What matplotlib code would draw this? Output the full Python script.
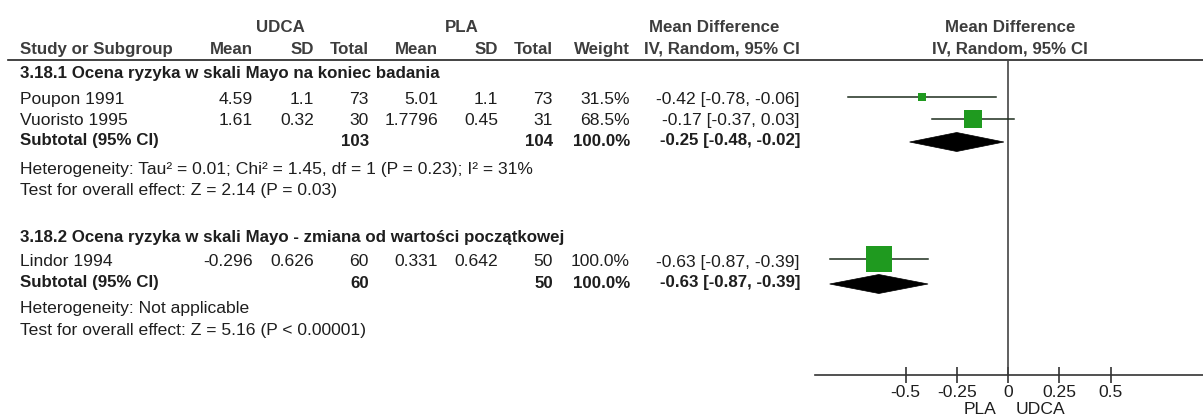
import matplotlib
matplotlib.use("Agg")
import matplotlib.pyplot as plt
from matplotlib.patches import Polygon

plt.rcParams['font.family'] = ['Liberation Sans', 'DejaVu Sans']

# Study-level data
studies = ['Poupon 1991', 'Vuoristo 1995', 'Lindor 1994']
udca_mean = [4.59, 1.61, -0.296]
udca_sd = [1.1, 0.32, 0.626]
udca_n = [73, 30, 60]
pla_mean = [5.01, 1.7796, 0.331]
pla_sd = [1.1, 0.45, 0.642]
pla_n = [73, 31, 50]
weights = [31.5, 68.5, 100.0]
md = [-0.42, -0.17, -0.63]
md_lo = [-0.78, -0.37, -0.87]
md_hi = [-0.06, 0.03, -0.39]

# Subgroup pooled results
groups = ['3.18.1 Ocena ryzyka w skali Mayo na koniec badania',
          '3.18.2 Ocena ryzyka w skali Mayo - zmiana od wartości początkowej']
sub_udca_n = [103, 60]
sub_pla_n = [104, 50]
sub_weight = [100.0, 100.0]
sub_md = [-0.25, -0.63]
sub_lo = [-0.48, -0.87]
sub_hi = [-0.02, -0.39]
heterogeneity = ['Heterogeneity: Tau\u00b2 = 0.01; Chi\u00b2 = 1.45, df = 1 (P = 0.23); I\u00b2 = 31%',
                 'Heterogeneity: Not applicable']
overall = ['Test for overall effect: Z = 2.14 (P = 0.03)',
           'Test for overall effect: Z = 5.16 (P < 0.00001)']

xticks = [-0.5, -0.25, 0, 0.25, 0.5]
xtick_labels = ['-0.5', '-0.25', '0', '0.25', '0.5']
left_label, right_label = 'PLA', 'UDCA'

W, H = 1203, 417
fig = plt.figure(figsize=(W / 100, H / 100), dpi=100)
fig.patch.set_facecolor('white')

# Text layer in pixel coordinates
tx = fig.add_axes([0, 0, 1, 1])
tx.set_xlim(0, W)
tx.set_ylim(H, 0)
tx.axis('off')

FS = 12.6
FSB = 12.2
TXT = '#1e1e1e'
HDR = '#3d3d3d'

def put(x, y, s, ha='left', bold=False, color=TXT):
    tx.text(x, y, s, ha=ha, va='center', fontsize=FSB if bold else FS,
            fontweight='bold' if bold else 'normal', color=color)

# Column right edges
c_um, c_usd, c_un = 253, 314, 369
c_pm, c_psd, c_pn = 438, 498, 553
c_w, c_ci = 630, 800

put(280, 27, 'UDCA', 'center', True, HDR)
put(462, 27, 'PLA', 'center', True, HDR)
put(714, 27, 'Mean Difference', 'center', True, HDR)
put(1010, 27, 'Mean Difference', 'center', True, HDR)

hy = 49
put(20, hy, 'Study or Subgroup', 'left', True, HDR)
for x, s in [(c_um, 'Mean'), (c_usd, 'SD'), (c_un, 'Total'),
             (c_pm, 'Mean'), (c_psd, 'SD'), (c_pn, 'Total'),
             (c_w, 'Weight'), (c_ci, 'IV, Random, 95% CI')]:
    put(x, hy, s, 'right', True, HDR)
put(1010, hy, 'IV, Random, 95% CI', 'center', True, HDR)
tx.plot([8, W], [59.5, 59.5], color='#222222', lw=1.2)

study_y = [99, 120, 262]
title_y = [73, 237]
sub_y = [141, 283]
het_y = [169, 309]
ovr_y = [190, 331]

for g in range(len(groups)):
    put(20, title_y[g], groups[g], 'left', True)
    put(20, sub_y[g], 'Subtotal (95% CI)', 'left', True)
    put(c_un, sub_y[g], str(sub_udca_n[g]), 'right', True)
    put(c_pn, sub_y[g], str(sub_pla_n[g]), 'right', True)
    put(c_w, sub_y[g], f'{sub_weight[g]:.1f}%', 'right', True)
    put(c_ci, sub_y[g], f'{sub_md[g]:.2f} [{sub_lo[g]:.2f}, {sub_hi[g]:.2f}]', 'right', True)
    put(20, het_y[g], heterogeneity[g])
    put(20, ovr_y[g], overall[g])

for i, name in enumerate(studies):
    y = study_y[i]
    put(20, y, name)
    put(c_um, y, str(udca_mean[i]), 'right')
    put(c_usd, y, str(udca_sd[i]), 'right')
    put(c_un, y, str(udca_n[i]), 'right')
    put(c_pm, y, str(pla_mean[i]), 'right')
    put(c_psd, y, str(pla_sd[i]), 'right')
    put(c_pn, y, str(pla_n[i]), 'right')
    put(c_w, y, f'{weights[i]:.1f}%', 'right')
    put(c_ci, y, f'{md[i]:.2f} [{md_lo[i]:.2f}, {md_hi[i]:.2f}]', 'right')

# Forest plot panel
x0_px, x1_px, y_top, y_axis = 815, W, 59.5, 375
ax = fig.add_axes([x0_px / W, (H - y_axis) / H, (x1_px - x0_px) / W, (y_axis - y_top) / H])
ax.set_facecolor('none')
ppu = 205.0  # pixels per unit
zero_px = 1008
ax.set_xlim((x0_px - zero_px) / ppu, (x1_px - zero_px) / ppu)
ax.set_ylim(y_axis, y_top)
for s in ['top', 'left', 'right']:
    ax.spines[s].set_visible(False)
ax.spines['bottom'].set_color('#333333')
ax.spines['bottom'].set_linewidth(1.2)
ax.set_yticks([])
ax.set_xticks(xticks)
ax.set_xticklabels(xtick_labels, fontsize=FS, color=TXT)
ax.tick_params(axis='x', direction='inout', length=12, width=1.2, color='#333333', pad=1)
ax.axvline(0, color='#444444', lw=1.2)

line_y = [97, 119, 259]
for i in range(len(studies)):
    y = line_y[i]
    ax.plot([md_lo[i], md_hi[i]], [y, y], color='#1e2e1e', lw=1.1, zorder=2)
    side_px = 27 * weights[i] / 100.0
    ax.plot(md[i], y, marker='s', markersize=side_px * 0.72, color='#1f9a1f',
            markeredgewidth=0, zorder=3)

for g in range(len(groups)):
    y = sub_y[g] + 1
    h = 9.5
    diamond = Polygon([[sub_lo[g], y], [sub_md[g], y - h], [sub_hi[g], y], [sub_md[g], y + h]],
                      closed=True, facecolor='black', edgecolor='black', lw=0.5, zorder=4)
    ax.add_patch(diamond)

tx.text(zero_px - 12, 409, left_label, ha='right', va='center', fontsize=FS, color=TXT)
tx.text(zero_px + 8, 409, right_label, ha='left', va='center', fontsize=FS, color=TXT)

fig.savefig('out.png', dpi=100, facecolor='white')
